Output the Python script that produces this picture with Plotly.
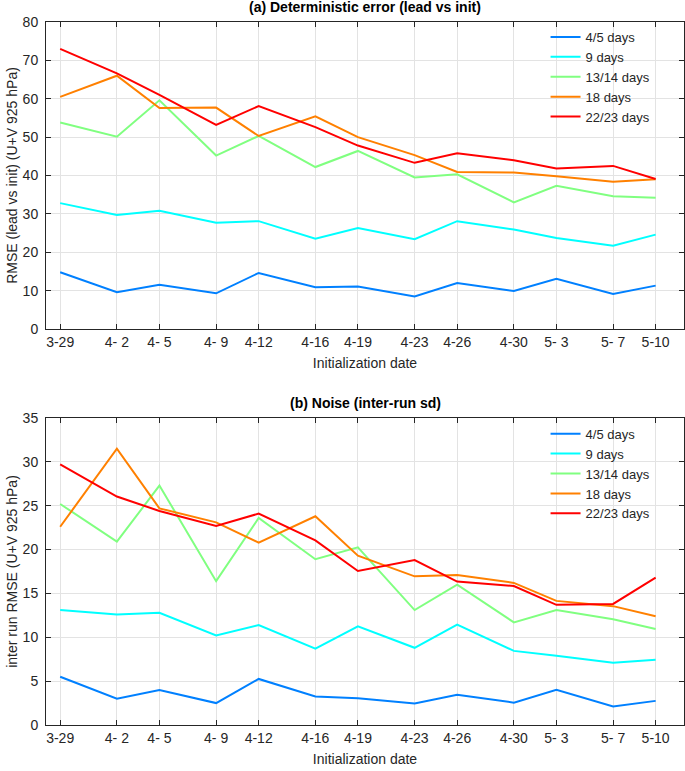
import plotly.graph_objects as go

# initialization dates (x axis) and their tick labels
dates = ['2020-03-29', '2020-04-02', '2020-04-05', '2020-04-09', '2020-04-12',
         '2020-04-16', '2020-04-19', '2020-04-23', '2020-04-26', '2020-04-30',
         '2020-05-03', '2020-05-07', '2020-05-10']
date_labels = ['3-29', '4- 2', '4- 5', '4- 9', '4-12', '4-16', '4-19',
               '4-23', '4-26', '4-30', '5- 3', '5- 7', '5-10']

leads = ['4/5 days', '9 days', '13/14 days', '18 days', '22/23 days']
colors = ['#0080FF', '#00FFFF', '#80FF80', '#FF8000', '#FF0000']

# (a) deterministic error (lead vs init)
err_4_5 = [14.8, 9.6, 11.5, 9.3, 14.6, 10.9, 11.1, 8.5, 12.0, 9.9, 13.1, 9.1, 11.3]
err_9 = [32.8, 29.7, 30.8, 27.7, 28.1, 23.5, 26.3, 23.4, 28.1, 25.9, 23.7, 21.7, 24.6]
err_13_14 = [53.8, 50.1, 59.6, 45.2, 50.3, 42.2, 46.4, 39.5, 40.3, 33.0, 37.3, 34.6, 34.2]
err_18 = [60.5, 66.0, 57.6, 57.7, 50.3, 55.4, 50.0, 45.3, 40.9, 40.8, 39.8, 38.4, 39.0]
err_22_23 = [73.0, 66.6, 61.0, 53.2, 58.1, 52.6, 47.8, 43.3, 45.8, 44.0, 41.8, 42.5, 39.1]

# (b) noise (inter-run sd)
noise_4_5 = [5.5, 3.0, 4.0, 2.5, 5.25, 3.25, 3.05, 2.45, 3.45, 2.55, 4.0, 2.1, 2.75]
noise_9 = [13.1, 12.6, 12.8, 10.2, 11.4, 8.7, 11.25, 8.8, 11.45, 8.45, 7.9, 7.1, 7.45]
noise_13_14 = [25.2, 20.9, 27.3, 16.4, 23.6, 18.9, 20.25, 13.1, 16.0, 11.7, 13.1, 12.05, 10.95]
noise_18 = [22.6, 31.5, 24.7, 23.1, 20.8, 23.8, 19.3, 16.95, 17.1, 16.2, 14.15, 13.55, 12.4]
noise_22_23 = [29.7, 26.05, 24.4, 22.7, 24.1, 21.05, 17.55, 18.8, 16.35, 15.85, 13.7, 13.8, 16.8]

err_series = [err_4_5, err_9, err_13_14, err_18, err_22_23]
noise_series = [noise_4_5, noise_9, noise_13_14, noise_18, noise_22_23]

fig = go.Figure()

for name, col, vals in zip(leads, colors, err_series):
    fig.add_trace(go.Scatter(x=dates, y=vals, name=name, mode='lines',
                             line=dict(color=col, width=2),
                             xaxis='x', yaxis='y', legend='legend'))
for name, col, vals in zip(leads, colors, noise_series):
    fig.add_trace(go.Scatter(x=dates, y=vals, name=name, mode='lines',
                             line=dict(color=col, width=2),
                             xaxis='x2', yaxis='y2', legend='legend2'))

axis_font = dict(family='Liberation Sans, Arial, sans-serif', size=14, color='#262626')
common_x = dict(type='date', range=['2020-03-28', '2020-05-12'], automargin=False,
                tickvals=dates, ticktext=date_labels, tickfont=axis_font,
                showgrid=True, gridcolor='#e3e3e3', gridwidth=1,
                showline=True, linecolor='#262626', linewidth=1, mirror='ticks',
                ticks='inside', ticklen=5, tickcolor='#262626', zeroline=False,
                title=dict(text='Initialization date', font=axis_font, standoff=9))
common_y = dict(showgrid=True, gridcolor='#e3e3e3', gridwidth=1, tickfont=axis_font,
                automargin=False, ticklabelstandoff=4,
                showline=True, linecolor='#262626', linewidth=1, mirror='ticks',
                ticks='inside', ticklen=5, tickcolor='#262626', zeroline=False)

leg_common = dict(font=dict(family='Liberation Sans, Arial, sans-serif', size=13, color='#262626'),
                  bgcolor='rgba(255,255,255,0)', borderwidth=0,
                  xanchor='left', yanchor='top', tracegroupgap=0)

fig.update_layout(
    width=685, height=771,
    margin=dict(l=46, r=1, t=22, b=46),
    plot_bgcolor='white', paper_bgcolor='white',
    font=axis_font,
    xaxis=dict(common_x, domain=[0, 1], anchor='y'),
    yaxis=dict(common_y, domain=[0.5633, 1], anchor='x', range=[0, 80], dtick=10,
               title=dict(text='RMSE (lead vs init) (U+V 925 hPa)', font=axis_font, standoff=1)),
    xaxis2=dict(common_x, domain=[0, 1], anchor='y2'),
    yaxis2=dict(common_y, domain=[0, 0.4367], anchor='x2', range=[0, 35], dtick=5,
                title=dict(text='inter run RMSE (U+V 925 hPa)', font=axis_font, standoff=1)),
    legend=dict(leg_common, x=0.783, y=1.0),
    legend2=dict(leg_common, x=0.783, y=0.4356),
    showlegend=True,
    annotations=[
        dict(text='<b>(a) Deterministic error (lead vs init)</b>', xref='paper', yref='paper',
             x=0.5, y=1, yshift=5, xanchor='center', yanchor='bottom', showarrow=False,
             font=dict(family='Liberation Sans, Arial, sans-serif', size=14, color='black')),
        dict(text='<b>(b) Noise (inter-run sd)</b>', xref='paper', yref='paper',
             x=0.5, y=0.4367, yshift=5, xanchor='center', yanchor='bottom', showarrow=False,
             font=dict(family='Liberation Sans, Arial, sans-serif', size=14, color='black')),
    ],
)

# drop the browser's default body margin so the figure sits at the page corner
fig.write_html('out.html', config={'displayModeBar': False},
               post_script="document.body.style.margin='0';")
